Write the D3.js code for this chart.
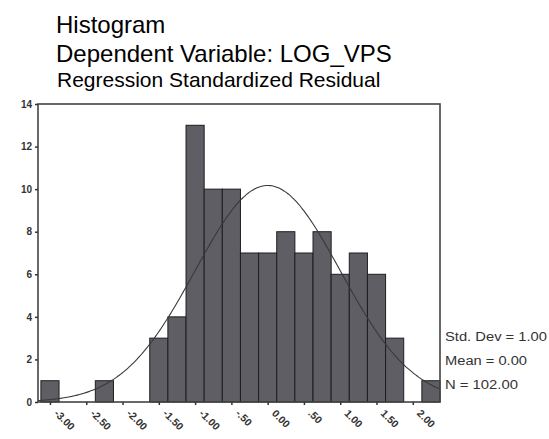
<!DOCTYPE html>
<html>
<head>
<meta charset="utf-8">
<script src="https://cdn.jsdelivr.net/npm/d3@7"></script>
<style>
  html, body { margin: 0; padding: 0; background: #fff; }
  svg { display: block; }
</style>
</head>
<body>
<div id="chart"></div>
<script>
// ---- data ----
const titleLines = ["Histogram", "Dependent Variable: LOG_VPS", "Regression Standardized Residual"];
const binCenters = [-3.00, -2.25, -1.50, -1.25, -1.00, -0.75, -0.50, -0.25, 0.00, 0.25, 0.50, 0.75, 1.00, 1.25, 1.50, 1.75, 2.25];
const binCounts  = [1, 1, 3, 4, 13, 10, 10, 7, 7, 8, 7, 8, 6, 7, 6, 3, 1];
const binWidth = 0.25;
const xTickValues = [-3.00, -2.50, -2.00, -1.50, -1.00, -0.50, 0.00, 0.50, 1.00, 1.50, 2.00];
const xTickLabels = ["-3.00", "-2.50", "-2.00", "-1.50", "-1.00", "-.50", "0.00", ".50", "1.00", "1.50", "2.00"];
const yTickValues = [0, 2, 4, 6, 8, 10, 12, 14];
const statLabels = ["Std. Dev = 1.00", "Mean = 0.00", "N = 102.00"];
const statLabelWidths = [102, 82, 73];
const statMean = 0.00, statSd = 1.00, statN = 102;

// ---- layout ----
const W = 549, H = 439;
const svg = d3.select("#chart").append("svg").attr("width", W).attr("height", H);

const x = d3.scaleLinear().domain([-3.165, 2.375]).range([38, 440]);
const y = d3.scaleLinear().domain([0, 14]).range([402, 104]);

// titles
const tt = svg.append("g").attr("font-family", "Liberation Sans, Arial, sans-serif").attr("fill", "#000");
tt.append("text").attr("x", 56).attr("y", 33).attr("font-size", 24).text(titleLines[0]);
tt.append("text").attr("x", 56).attr("y", 62).attr("font-size", 24).text(titleLines[1]);
tt.append("text").attr("x", 57).attr("y", 87).attr("font-size", 21).text(titleLines[2]);

// bars
svg.append("g").selectAll("rect").data(binCenters).join("rect")
  .attr("x", (d) => x(d - binWidth / 2))
  .attr("width", (d) => x(d + binWidth / 2) - x(d - binWidth / 2))
  .attr("y", (d, i) => y(binCounts[i]))
  .attr("height", (d, i) => y(0) - y(binCounts[i]))
  .attr("fill", "#5e5e64")
  .attr("stroke", "#1e1e22")
  .attr("stroke-width", 1);

// fitted normal curve from displayed statistics
const pdf = (v) => Math.exp(-0.5 * ((v - statMean) / statSd) ** 2) / (statSd * Math.sqrt(2 * Math.PI));
const curveXs = d3.range(x.domain()[0], x.domain()[1] + 1e-9, 0.02);
const line = d3.line().x((d) => x(d)).y((d) => y(statN * binWidth * pdf(d))).curve(d3.curveBasis);
svg.append("path").datum(curveXs).attr("d", line)
  .attr("fill", "none").attr("stroke", "#3a3a3a").attr("stroke-width", 1.1);

// frame
svg.append("rect").attr("x", 38).attr("y", 104).attr("width", 402).attr("height", 298)
  .attr("fill", "none").attr("stroke", "#444").attr("stroke-width", 1.6);

// y axis
const yAxis = d3.axisLeft(y).tickValues(yTickValues).tickSize(3).tickPadding(3).tickFormat(d3.format("d"));
const gy = svg.append("g").attr("transform", "translate(38,0)").call(yAxis);
gy.select(".domain").remove();
gy.selectAll("line").attr("stroke", "#333").attr("stroke-width", 1.5);
gy.selectAll("text").attr("font-family", "Liberation Sans, Arial, sans-serif")
  .attr("font-size", 10).attr("font-weight", "bold").attr("fill", "#333");

// x axis
const xAxis = d3.axisBottom(x).tickValues(xTickValues).tickSize(3).tickFormat((d, i) => xTickLabels[i]);
const gx = svg.append("g").attr("transform", "translate(0,402)").call(xAxis);
gx.select(".domain").remove();
gx.selectAll("line").attr("stroke", "#333").attr("stroke-width", 1.5);
gx.selectAll("text")
  .attr("font-family", "Liberation Sans, Arial, sans-serif")
  .attr("font-size", 10.5).attr("font-weight", "bold").attr("fill", "#333")
  .attr("text-anchor", "start").attr("dy", null)
  .attr("transform", "translate(3,12) rotate(45)")
  .attr("y", 0).attr("x", 0);

// statistics legend
svg.append("g").selectAll("text").data(statLabels).join("text")
  .attr("x", 445).attr("y", (d, i) => 341 + i * 24)
  .attr("font-family", "Liberation Sans, Arial, sans-serif")
  .attr("font-size", 12).attr("fill", "#333")
  .attr("textLength", (d, i) => statLabelWidths[i])
  .attr("lengthAdjust", "spacingAndGlyphs")
  .text((d) => d);
</script>
</body>
</html>
